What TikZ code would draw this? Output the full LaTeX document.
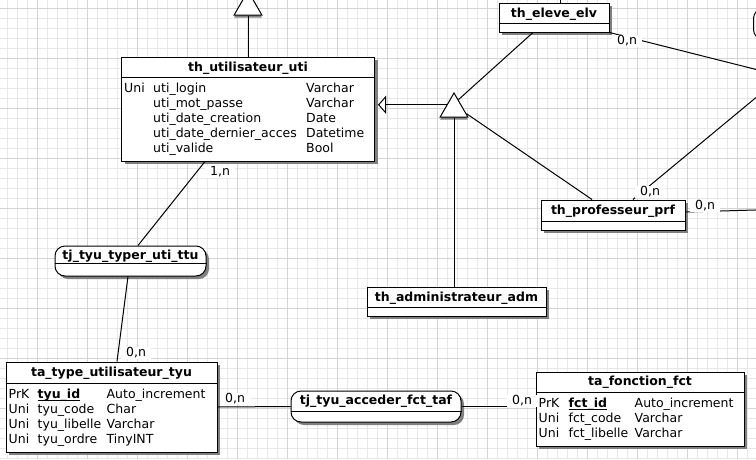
\documentclass[tikz,border=0pt]{standalone}
\usepackage{fontspec}
\setmainfont{DejaVu Sans}
\usepackage{tikz}
\usetikzlibrary{arrows.meta,shadows,shapes.geometric,calc}

\newsavebox\pkbox
\newcommand\pkfield[1]{\sbox\pkbox{\textbf{#1}}\usebox\pkbox\llap{\rule[-2.5pt]{\wd\pkbox}{1.2pt}}}

\begin{document}
\begin{tikzpicture}[x=1pt,y=-1pt,
    font=\fontsize{12.5}{15}\selectfont,
    minor/.style={draw=black!9,line width=1pt},
    major/.style={draw=black!17,line width=1pt},
    entity/.style={draw,line width=1pt,fill=white,inner sep=0pt,
      drop shadow={shadow xshift=3pt,shadow yshift=-3pt,fill=black!50,opacity=1}},
    assoc/.style={entity,rounded corners=10pt},
    title/.style={anchor=base,inner sep=0pt,font=\fontsize{12.5}{15}\selectfont\bfseries},
    fields/.style={anchor=north west,inner sep=0pt},
    isa/.style={regular polygon,regular polygon sides=3,draw,line width=1pt,fill=white,
      minimum size=32pt,inner sep=0pt,
      drop shadow={shadow xshift=0pt,shadow yshift=-2.5pt,fill=black!50,opacity=1}},
    link/.style={line width=1pt},
    card/.style={fill=white,inner xsep=5pt,inner ysep=1pt}]

    \useasboundingbox (0,0) rectangle (756,459);
    \clip (0,0) rectangle (756,459);
    \fill[white] (0,0) rectangle (756,459);

    % grid
    \foreach \gx in {7,17,...,757} \draw[minor] (\gx,0) -- (\gx,459);
    \foreach \gy in {8,18,...,458} \draw[minor] (0,\gy) -- (756,\gy);
    \foreach \gx in {37,87,...,737} \draw[major] (\gx,0) -- (\gx,459);
    \foreach \gy in {8,58,...,408} \draw[major] (0,\gy) -- (756,\gy);

    % heritage
    \node[isa] (topisa) at (248,7) {};
    \node[isa] (midisa) at (454,109) {};

    \node[entity,minimum width=253pt,minimum height=104pt] (uti) at (248,109) {};
    \node[title] (uti-t) at ([yshift=-14.5pt]uti.north) {th\_utilisateur\_uti};
    \draw ([yshift=-21pt]uti.north west) -- ([yshift=-21pt]uti.north east);
    \node[fields] (uti-f) at ([xshift=3pt,yshift=-25.5pt]uti.north west) {%
      \begin{tabular}{@{}p{29pt}@{}p{153pt}@{}l@{}}
        Uni & uti\_login & Varchar\\
            & uti\_mot\_passe & Varchar\\
            & uti\_date\_creation & Date\\
            & uti\_date\_dernier\_acces & Datetime\\
            & uti\_valide & Bool
      \end{tabular}};

    \node[entity,minimum width=110pt,minimum height=29pt] (elv) at (554,17.5) {};
    \node[title] (elv-t) at ([yshift=-14.5pt]elv.north) {th\_eleve\_elv};
    \draw ([yshift=-21pt]elv.north west) -- ([yshift=-21pt]elv.north east);

    \node[entity,minimum width=144pt,minimum height=30pt] (prf) at (613,215) {};
    \node[title] (prf-t) at ([yshift=-14.5pt]prf.north) {th\_professeur\_prf};
    \draw ([yshift=-22pt]prf.north west) -- ([yshift=-22pt]prf.north east);

    \node[entity,minimum width=179pt,minimum height=29pt] (adm) at (456.5,301.5) {};
    \node[title] (adm-t) at ([yshift=-14.5pt]adm.north) {th\_administrateur\_adm};
    \draw ([yshift=-21pt]adm.north west) -- ([yshift=-21pt]adm.north east);

    % associations
    \node[assoc,minimum width=151pt,minimum height=30pt] (ttu) at (130.5,261) {};
    \node[title] (ttu-t) at ([yshift=-13.5pt]ttu.north) {tj\_tyu\_typer\_uti\_ttu};
    \draw ([yshift=-18pt]ttu.north west) -- ([yshift=-18pt]ttu.north east);

    \node[assoc,minimum width=170pt,minimum height=31pt] (taf) at (376,406.5) {};
    \node[title] (taf-t) at ([yshift=-14pt]taf.north) {tj\_tyu\_acceder\_fct\_taf};
    \draw ([yshift=-21pt]taf.north west) -- ([yshift=-21pt]taf.north east);

    \node[assoc,minimum width=150pt,minimum height=31pt,anchor=west] (farbox) at (753,24) {};

    % tables
    \node[entity,minimum width=211pt,minimum height=90pt] (tyu) at (111.5,407) {};
    \node[title] (tyu-t) at ([yshift=-15pt]tyu.north) {ta\_type\_utilisateur\_tyu};
    \draw ([yshift=-22pt]tyu.north west) -- ([yshift=-22pt]tyu.north east);
    \node[fields] (tyu-f) at ([xshift=3pt,yshift=-26.5pt]tyu.north west) {%
      \begin{tabular}{@{}p{29pt}@{}p{69pt}@{}l@{}}
        PrK & \pkfield{tyu\_id} & Auto\_increment\\
        Uni & tyu\_code & Char\\
        Uni & tyu\_libelle & Varchar\\
        Uni & tyu\_ordre & TinyINT
      \end{tabular}};

    \node[entity,minimum width=208pt,minimum height=74pt] (fct) at (640,409) {};
    \node[title] (fct-t) at ([yshift=-14pt]fct.north) {ta\_fonction\_fct};
    \draw ([yshift=-21pt]fct.north west) -- ([yshift=-21pt]fct.north east);
    \node[fields] (fct-f) at ([xshift=3pt,yshift=-25.5pt]fct.north west) {%
      \begin{tabular}{@{}p{30pt}@{}p{66pt}@{}l@{}}
        PrK & \pkfield{fct\_id} & Auto\_increment\\
        Uni & fct\_code & Varchar\\
        Uni & fct\_libelle & Varchar
      \end{tabular}};

    \coordinate (farassoc) at (782,76);
    \coordinate (farright) at (790,209);
    \coordinate (elvup) at (560,-20);

    % links
    \draw[link] (topisa.side 2) -- (uti.north);
    \draw[link,-{Triangle[open,fill=white,length=8pt,width=18pt]}]
      (midisa.side 1) -- ($(midisa.side 1 -| uti.east)+(3,0)$);
    \draw[link] ($(midisa.corner 1)!0.3!(midisa.corner 3)$) -- ([xshift=-21pt]elv.south);
    \draw[link] ($(midisa.corner 1)!0.85!(midisa.corner 3)$) -- ([xshift=-21pt]prf.north);
    \draw[link] (midisa.side 2) -- (midisa.side 2 |- adm.north);
    \draw[link] ([xshift=6pt]elv.north) -- (elvup);

    \draw[link] ([xshift=-43pt]uti.south) -- ([xshift=7.5pt]ttu.north);
    \draw[link] ([xshift=-2.5pt]ttu.south) -- ([xshift=5.5pt]tyu.north);
    \draw[link] (tyu.east) -- (taf.west);
    \draw[link] (taf.east) -- (taf.east -| fct.west);
    \draw[link] (elv.south east) -- (farassoc);
    \draw[link] ([xshift=20pt]prf.north) -- (farassoc);
    \draw[link] ([yshift=3pt]prf.east) -- (farright);

    % cardinalities
    \node[card] (c1) at (220,172) {1,n};
    \node[card] (c2) at (136,353) {0,n};
    \node[card] (c3) at (235,399) {0,n};
    \node[card] (c4) at (522,401) {0,n};
    \node[card] (c5) at (627,41) {0,n};
    \node[card] (c6) at (650,192) {0,n};
    \node[card] (c7) at (705,206) {0,n};
\end{tikzpicture}
\end{document}
